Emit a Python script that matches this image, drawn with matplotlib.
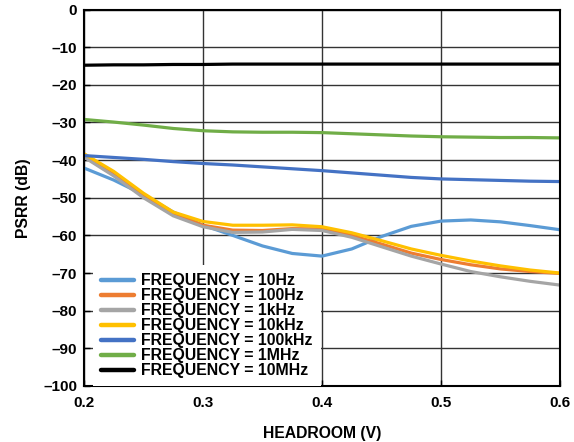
import numpy as np
import matplotlib
matplotlib.use('Agg')
import matplotlib.pyplot as plt

plt.rcParams['font.family'] = ['Liberation Sans', 'DejaVu Sans']
plt.rcParams['font.weight'] = 'bold'
plt.rcParams['font.size'] = 11

# === data ===
headroom = [0.2, 0.225, 0.25, 0.275, 0.3, 0.325, 0.35, 0.375, 0.4,
            0.425, 0.45, 0.475, 0.5, 0.525, 0.55, 0.575, 0.6]

psrr_10hz = [-42.1, -45.3, -49.2, -53.8, -57.3, -60.0, -62.8, -64.8, -65.5,
             -63.6, -60.3, -57.6, -56.2, -55.9, -56.4, -57.4, -58.5]
psrr_100hz = [-39.0, -43.8, -49.5, -54.2, -57.3, -58.6, -58.7, -58.2, -58.3,
              -60.0, -62.3, -64.7, -66.4, -67.8, -68.9, -69.6, -70.1]
psrr_1khz = [-39.2, -44.2, -50.0, -54.8, -57.7, -59.2, -59.1, -58.4, -58.7,
             -60.5, -63.0, -65.5, -67.6, -69.6, -71.0, -72.2, -73.2]
psrr_10khz = [-38.3, -43.0, -48.8, -53.8, -56.3, -57.3, -57.3, -57.2, -57.7,
              -59.3, -61.4, -63.6, -65.3, -66.8, -68.1, -69.2, -70.0]
psrr_100khz = [-38.8, -39.3, -39.8, -40.4, -40.9, -41.3, -41.8, -42.3, -42.8,
               -43.4, -44.0, -44.6, -45.0, -45.2, -45.4, -45.6, -45.7]
psrr_1mhz = [-29.2, -29.9, -30.7, -31.6, -32.2, -32.5, -32.6, -32.6, -32.7,
             -33.0, -33.3, -33.6, -33.8, -33.9, -34.0, -34.0, -34.1]
psrr_10mhz = [-14.8, -14.7, -14.7, -14.6, -14.6, -14.5, -14.5, -14.5, -14.5,
              -14.5, -14.5, -14.5, -14.5, -14.5, -14.5, -14.5, -14.5]

series_labels = ['FREQUENCY = 10Hz', 'FREQUENCY = 100Hz', 'FREQUENCY = 1kHz',
                 'FREQUENCY = 10kHz', 'FREQUENCY = 100kHz', 'FREQUENCY = 1MHz',
                 'FREQUENCY = 10MHz']
series_colors = ['#5B9BD5', '#ED7D31', '#A5A5A5', '#FFC000', '#4472C4', '#70AD47', '#000000']

x_ticks = [0.2, 0.3, 0.4, 0.5, 0.6]
x_tick_labels = ['0.2', '0.3', '0.4', '0.5', '0.6']
y_ticks = [0, -10, -20, -30, -40, -50, -60, -70, -80, -90, -100]
y_tick_labels = ['0', '–10', '–20', '–30', '–40', '–50', '–60', '–70', '–80', '–90', '–100']

# === plot ===
fig = plt.figure(figsize=(5.74, 4.42), dpi=100)
ax = fig.add_axes([0.1463, 0.1267, 0.8293, 0.8518])

all_series = [psrr_10hz, psrr_100hz, psrr_1khz, psrr_10khz, psrr_100khz, psrr_1mhz, psrr_10mhz]
for vals, lab, col in zip(all_series, series_labels, series_colors):
    ax.plot(headroom, vals, color=col, linewidth=2.3, label=lab, solid_capstyle='round')

ax.set_xlim(0.2, 0.6)
ax.set_ylim(-100, 0)
ax.set_xticks(x_ticks)
ax.set_xticklabels(x_tick_labels)
ax.set_yticks(y_ticks)
ax.set_yticklabels(y_tick_labels)
ax.tick_params(direction='in', length=4, width=1, labelsize=11)
ax.tick_params(axis='x', pad=7)
ax.tick_params(axis='y', pad=5)
ax.grid(True, color='#333333', linewidth=1.0)
for s in ax.spines.values():
    s.set_linewidth(1.5)
    s.set_color('black')

ax.set_xlabel('HEADROOM (V)', fontsize=11.3, fontweight='bold', labelpad=12)
ax.set_ylabel('PSRR (dB)', fontsize=11.3, fontweight='bold', labelpad=9)

leg = ax.legend(loc='lower left', bbox_to_anchor=(0.019, 0.0), borderaxespad=0,
                frameon=True, fancybox=False, framealpha=1, edgecolor='none',
                facecolor='white', handlelength=2.1, handletextpad=0.45,
                labelspacing=0.0, borderpad=0.5, prop={'weight': 'bold', 'size': 11.4})
for line in leg.get_lines():
    line.set_linewidth(3.2)

fig.savefig('out.png', dpi=100)
